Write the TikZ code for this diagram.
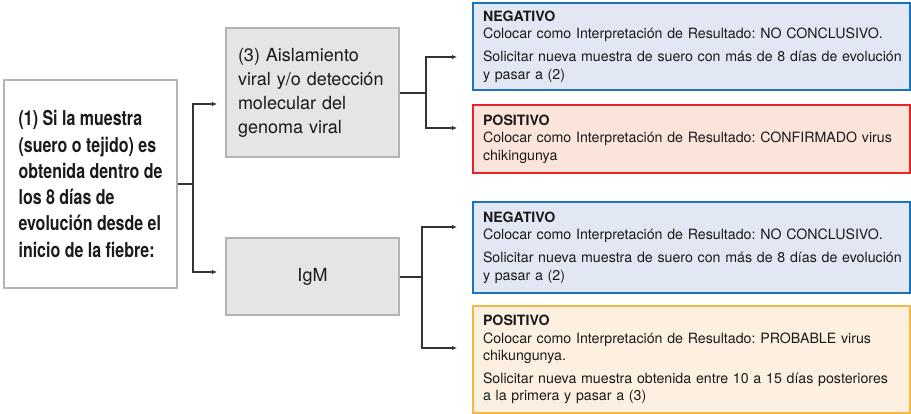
\documentclass[tikz,border=0pt]{standalone}
\usepackage{fontspec}
\setmainfont{TeX Gyre Heros}
\newfontfamily\condfont[FakeStretch=0.78]{TeX Gyre Heros}
\usetikzlibrary{arrows.meta}
\definecolor{txt}{HTML}{1A1A1A}
\definecolor{lnk}{HTML}{333333}
\definecolor{grayfill}{HTML}{E5E5E7}
\definecolor{grayline}{HTML}{B3B3B3}
\definecolor{bluefill}{HTML}{E2E7F4}
\definecolor{blueline}{HTML}{1B72BE}
\definecolor{redfill}{HTML}{FBE4DA}
\definecolor{redline}{HTML}{E8232A}
\definecolor{orafill}{HTML}{FDF0E0}
\definecolor{oraline}{HTML}{F7B744}
\tikzset{
  startbox/.style={draw=grayline, fill=white, line width=1.8pt, minimum width=173pt,
    align=left, text=txt,
    font=\condfont\bfseries\fontsize{20.5}{26.3}\selectfont},
  midbox/.style={draw=grayline, fill=grayfill, line width=1.8pt, minimum width=173pt,
    inner xsep=12pt, text width=149pt, text=txt,
    font=\fontsize{18}{24}\selectfont},
  resbox/.style={line width=1.8pt, minimum width=437pt, inner xsep=10pt,
    text width=417pt, align=left, text=txt,
    font=\fontsize{14.2}{17.6}\selectfont},
  negbox/.style={resbox, draw=blueline, fill=bluefill},
  posred/.style={resbox, draw=redline, fill=redfill},
  posora/.style={resbox, draw=oraline, fill=orafill},
  conn/.style={draw=lnk, line width=1.1pt},
  arr/.style={conn, -{Latex[length=5pt,width=4.5pt]}}
}
\begin{document}
\frenchspacing
\begin{tikzpicture}[x=1pt,y=-1pt]
\useasboundingbox (0,0) rectangle (911,414);

% left box
\node[startbox, minimum height=208pt] (start) at (90.5,184)
  {(1) Si la muestra\\(suero o tejido) es\\obtenida dentro de\\los 8 días de\\evolución desde el\\inicio de la fiebre:};

% middle boxes
\node[midbox, align=left, minimum height=129pt] (aisl) at (312.5,92.5)
  {(3) Aislamiento\\viral y/o detección\\molecular del\\genoma viral};
\node[midbox, align=center, minimum height=77pt] (igm) at (312.5,276.5) {IgM};

% result boxes
\node[negbox, minimum height=87pt] (neg1) at (691.5,46.5)
  {\textbf{NEGATIVO}\\Colocar como Interpretación de Resultado: NO CONCLUSIVO.\\[5pt]\mbox{Solicitar nueva muestra de suero con más de 8 días de evolución}\\y pasar a (2)};
\node[posred, minimum height=68pt] (pos1) at (691.5,139)
  {\textbf{POSITIVO}\\Colocar como Interpretación de Resultado: CONFIRMADO virus\\chikingunya};
\node[negbox, minimum height=91pt] (neg2) at (691.5,247.5)
  {\textbf{NEGATIVO}\\Colocar como Interpretación de Resultado: NO CONCLUSIVO.\\[5pt]\mbox{Solicitar nueva muestra de suero con más de 8 días de evolución}\\y pasar a (2)};
\node[posora, minimum height=107pt] (pos2) at (691.5,359.5)
  {\textbf{POSITIVO}\\Colocar como Interpretación de Resultado: PROBABLE virus\\chikungunya.\\[5pt]\mbox{Solicitar nueva muestra obtenida entre 10 a 15 días posteriores}\\a la primera y pasar a (3)};

% junctions and arrow ends
\coordinate (j1) at (193,184);
\coordinate (a1) at (217,104);
\coordinate (a2) at (217,272);
\coordinate (j2) at (426,93);
\coordinate (b1) at (457,57);
\coordinate (b2) at (457,128);
\coordinate (j3) at (422,277);
\coordinate (c1) at (457,227);
\coordinate (c2) at (457,348);

\draw[conn] (start.east |- j1) -- (j1);
\draw[arr] (j1) |- (a1);
\draw[arr] (j1) |- (a2);

\draw[conn] (aisl.east |- j2) -- (j2);
\draw[arr] (j2) |- (b1);
\draw[arr] (j2) |- (b2);

\draw[conn] (igm.east |- j3) -- (j3);
\draw[arr] (j3) |- (c1);
\draw[arr] (j3) |- (c2);
\end{tikzpicture}
\end{document}
